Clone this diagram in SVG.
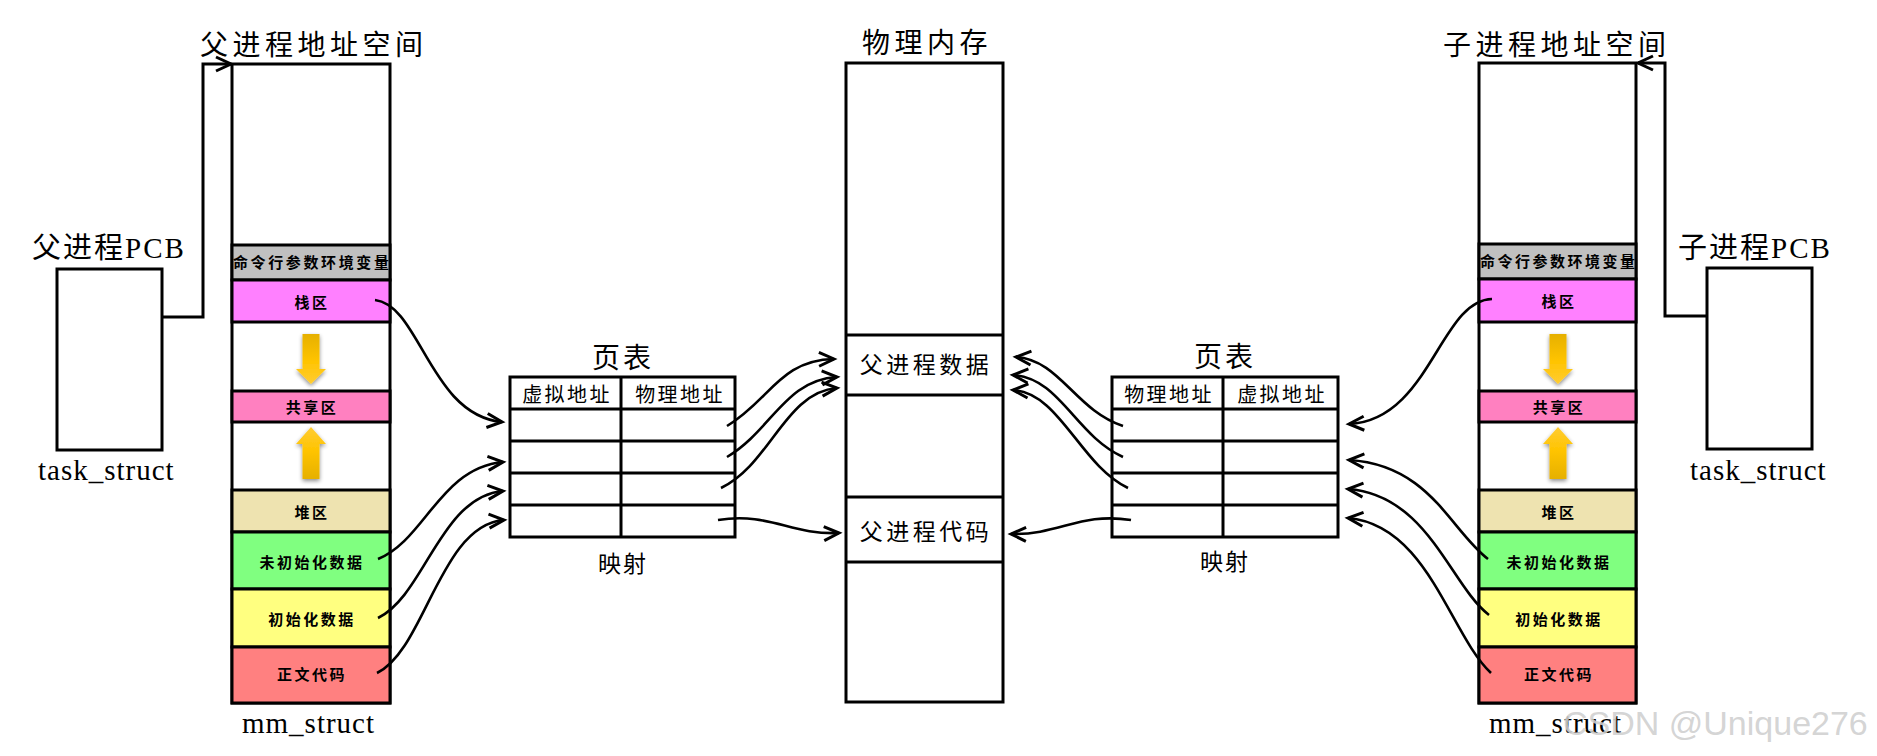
<svg xmlns="http://www.w3.org/2000/svg" width="1877" height="756" viewBox="0 0 1877 756">
<style>
.t{font-family:"Liberation Serif","Noto Sans CJK SC",serif;fill:#000}
.h{font-size:28px;letter-spacing:4.5px}
.pcb{font-size:29px;letter-spacing:2px}
.ts{font-size:29px;letter-spacing:1px}
.b{font-size:15px;font-weight:bold;letter-spacing:2.5px;text-anchor:middle}
.col{font-size:20px;letter-spacing:2.4px;text-anchor:middle}
.pt{font-size:28px;letter-spacing:3px;text-anchor:middle}
.ys{font-size:23px;letter-spacing:2px;text-anchor:middle}
.pm{font-size:23px;letter-spacing:3.5px;text-anchor:middle}
.box{stroke:#000;stroke-width:3}
.ln{stroke:#000;stroke-width:3;fill:none}
.cv{stroke:#000;stroke-width:2.6;fill:none;marker-end:url(#ah)}
.wm{font-family:"Liberation Sans",Arial,sans-serif;font-size:34px;fill:#cfcfcf;fill-opacity:0.9}
</style>
<defs>
<marker id="ah" markerUnits="userSpaceOnUse" markerWidth="24" markerHeight="24" viewBox="-18 -12 24 24" refX="0" refY="0" orient="auto" overflow="visible">
<path d="M-15,-7 L0,0 L-15,7" fill="none" stroke="#000" stroke-width="3"/>
</marker>
<linearGradient id="gDown" x1="0" y1="0" x2="0" y2="1">
<stop offset="0" stop-color="#E6B000"/>
<stop offset="0.55" stop-color="#FFC400"/>
<stop offset="1" stop-color="#FFCC33"/>
</linearGradient>
<linearGradient id="gUp" x1="0" y1="0" x2="0" y2="1">
<stop offset="0" stop-color="#FFCC33"/>
<stop offset="0.45" stop-color="#FFC400"/>
<stop offset="1" stop-color="#E6B000"/>
</linearGradient>
<filter id="sh" x="-50%" y="-20%" width="200%" height="140%">
<feGaussianBlur in="SourceAlpha" stdDeviation="2"/>
<feOffset dx="0" dy="2" result="b"/>
<feComponentTransfer><feFuncA type="linear" slope="0.45"/></feComponentTransfer>
<feMerge><feMergeNode/><feMergeNode in="SourceGraphic"/></feMerge>
</filter>
<g id="stackArrows">
<path d="M-8.5,0 H8.5 V35 H15 L0,50 L-15,35 H-8.5 Z" fill="url(#gDown)" filter="url(#sh)" transform="translate(0,334)"/>
<path d="M0,0 L15,17 H8.5 V52 H-8.5 V17 H-15 Z" fill="url(#gUp)" filter="url(#sh)" transform="translate(0,427)"/>
</g>
</defs>

<rect width="1877" height="756" fill="#fff"/>

<!-- Parent PCB -->
<g id="parent-pcb">
<text class="t pcb" x="32" y="258">父进程PCB</text>
<rect class="box" x="57" y="269" width="105" height="181" fill="#fff"/>
<text class="t ts" x="38" y="480">task_struct</text>
</g>

<!-- Parent address space -->
<g id="parent-mm">
<text class="t h" x="200" y="55">父进程地址空间</text>
<rect class="box" x="232" y="64" width="158" height="639" fill="#fff"/>
<rect class="box" x="232" y="245" width="158" height="35" fill="#C0C0C0"/>
<rect class="box" x="232" y="280" width="158" height="42" fill="#FF80FF"/>
<rect class="box" x="232" y="391" width="158" height="31" fill="#FF80C0"/>
<rect class="box" x="232" y="490" width="158" height="42" fill="#EEE3B0"/>
<rect class="box" x="232" y="532" width="158" height="57" fill="#80FF80"/>
<rect class="box" x="232" y="589" width="158" height="58" fill="#FFFF80"/>
<rect class="box" x="232" y="647" width="158" height="56" fill="#FF8080"/>
<text class="t" x="233" y="268" font-size="15" font-weight="bold" textLength="156" lengthAdjust="spacing">命令行参数环境变量</text>
<text class="t b" x="312" y="308">栈区</text>
<text class="t b" x="312" y="413">共享区</text>
<text class="t b" x="312" y="518">堆区</text>
<text class="t b" x="312" y="568">未初始化数据</text>
<text class="t b" x="312" y="625">初始化数据</text>
<text class="t b" x="312" y="680">正文代码</text>
<use href="#stackArrows" x="311" y="0"/>
<text class="t ts" x="242" y="733" letter-spacing="1.5">mm_struct</text>
</g>

<!-- Left page table -->
<g id="page-table-left">
<text class="t pt" x="623" y="368">页表</text>
<rect class="box" x="510" y="377" width="225" height="160" fill="#fff"/>
<line class="ln" x1="510" y1="409" x2="735" y2="409"/>
<line class="ln" x1="510" y1="441" x2="735" y2="441"/>
<line class="ln" x1="510" y1="473" x2="735" y2="473"/>
<line class="ln" x1="510" y1="505" x2="735" y2="505"/>
<line class="ln" x1="621" y1="377" x2="621" y2="537"/>
<text class="t col" x="567" y="402">虚拟地址</text>
<text class="t col" x="680" y="402">物理地址</text>
<text class="t ys" x="623" y="572">映射</text>
</g>

<!-- Physical memory -->
<g id="physical-memory">
<text class="t h" x="862" y="53">物理内存</text>
<rect class="box" x="846" y="63" width="157" height="639" fill="#fff"/>
<line class="ln" x1="846" y1="335" x2="1003" y2="335"/>
<line class="ln" x1="846" y1="395" x2="1003" y2="395"/>
<line class="ln" x1="846" y1="497" x2="1003" y2="497"/>
<line class="ln" x1="846" y1="562" x2="1003" y2="562"/>
<text class="t pm" x="926" y="373">父进程数据</text>
<text class="t pm" x="926" y="540">父进程代码</text>
</g>

<!-- Right page table -->
<g id="page-table-right">
<text class="t pt" x="1225" y="367">页表</text>
<rect class="box" x="1112" y="377" width="226" height="160" fill="#fff"/>
<line class="ln" x1="1112" y1="409" x2="1338" y2="409"/>
<line class="ln" x1="1112" y1="441" x2="1338" y2="441"/>
<line class="ln" x1="1112" y1="473" x2="1338" y2="473"/>
<line class="ln" x1="1112" y1="505" x2="1338" y2="505"/>
<line class="ln" x1="1223" y1="377" x2="1223" y2="537"/>
<text class="t col" x="1169" y="402">物理地址</text>
<text class="t col" x="1282" y="402">虚拟地址</text>
<text class="t ys" x="1225" y="570">映射</text>
</g>

<!-- Child address space -->
<g id="child-mm">
<text class="t h" x="1443" y="55">子进程地址空间</text>
<rect class="box" x="1479" y="63" width="157" height="640" fill="#fff"/>
<rect class="box" x="1479" y="244" width="157" height="35" fill="#C0C0C0"/>
<rect class="box" x="1479" y="279" width="157" height="43" fill="#FF80FF"/>
<rect class="box" x="1479" y="391" width="157" height="31" fill="#FF80C0"/>
<rect class="box" x="1479" y="490" width="157" height="42" fill="#EEE3B0"/>
<rect class="box" x="1479" y="532" width="157" height="57" fill="#80FF80"/>
<rect class="box" x="1479" y="589" width="157" height="58" fill="#FFFF80"/>
<rect class="box" x="1479" y="647" width="157" height="56" fill="#FF8080"/>
<text class="t" x="1480" y="267" font-size="15" font-weight="bold" textLength="155" lengthAdjust="spacing">命令行参数环境变量</text>
<text class="t b" x="1559" y="307">栈区</text>
<text class="t b" x="1559" y="413">共享区</text>
<text class="t b" x="1559" y="518">堆区</text>
<text class="t b" x="1559" y="568">未初始化数据</text>
<text class="t b" x="1559" y="625">初始化数据</text>
<text class="t b" x="1559" y="680">正文代码</text>
<use href="#stackArrows" x="1558" y="0"/>
<text class="t ts" x="1489" y="733" letter-spacing="1.5">mm_struct</text>
</g>

<!-- Child PCB -->
<g id="child-pcb">
<text class="t pcb" x="1678" y="258">子进程PCB</text>
<rect class="box" x="1707" y="268" width="105" height="181" fill="#fff"/>
<text class="t ts" x="1690" y="480">task_struct</text>
</g>

<!-- Connectors -->
<g id="connectors">
<polyline class="ln" points="162,317 203,317 203,64 231,64" marker-end="url(#ah)"/>
<polyline class="ln" points="1707,316 1665,316 1665,63 1638,63" marker-end="url(#ah)"/>
<path class="cv" d="M375,300 C420,305 430,415 502,422"/>
<path class="cv" d="M378,559 C425,540 440,468 503,462"/>
<path class="cv" d="M378,618 C425,595 440,497 503,491"/>
<path class="cv" d="M377,673 C425,650 440,525 504,520"/>
<path class="cv" d="M727,426 C770,400 780,360 834,359"/>
<path class="cv" d="M727,457 C772,430 785,380 837,377"/>
<path class="cv" d="M721,488 C770,465 785,392 837,388"/>
<path class="cv" d="M718,520 C770,512 790,535 839,533"/>
<path class="cv" d="M1123,426 C1075,410 1060,360 1016,357"/>
<path class="cv" d="M1123,457 C1075,435 1060,378 1013,375"/>
<path class="cv" d="M1128,488 C1080,465 1060,393 1013,390"/>
<path class="cv" d="M1131,520 C1080,512 1060,535 1011,534"/>
<path class="cv" d="M1492,299 C1440,300 1430,420 1349,424"/>
<path class="cv" d="M1488,559 C1450,530 1430,465 1349,460"/>
<path class="cv" d="M1489,615 C1450,585 1428,495 1348,489"/>
<path class="cv" d="M1491,673 C1450,635 1428,525 1348,518"/>
</g>

<text class="wm" x="1563" y="735">CSDN @Unique276</text>
</svg>
